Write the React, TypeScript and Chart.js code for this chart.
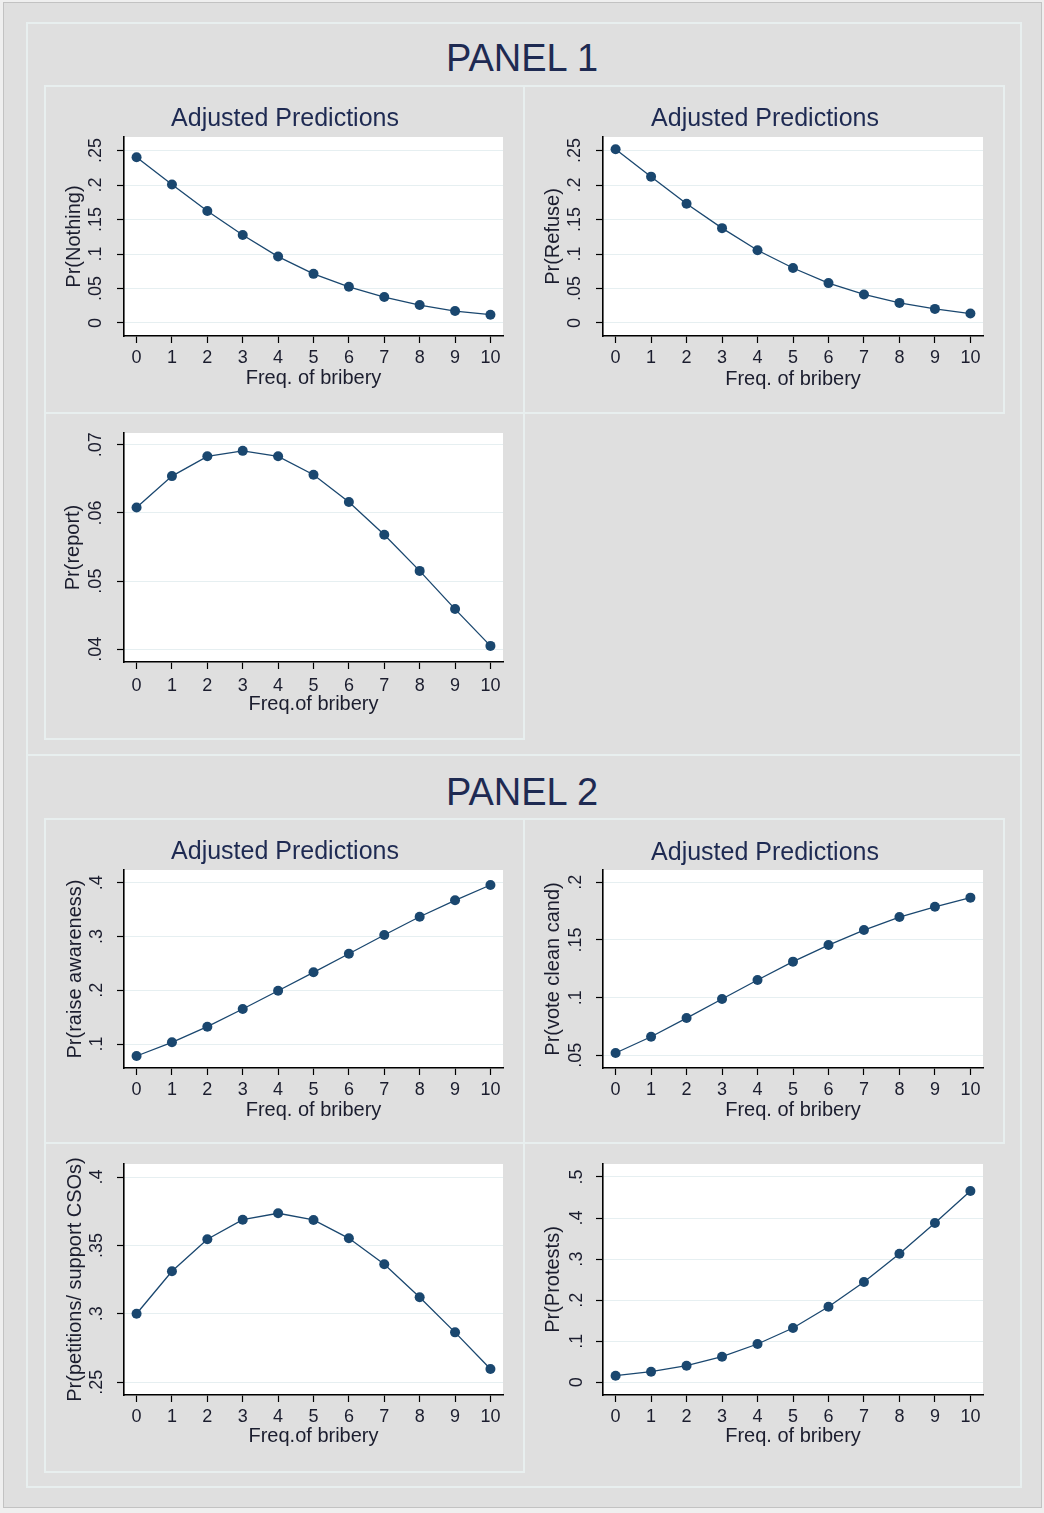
import React, { useEffect, useRef } from "react";
import { Chart, registerables } from "chart.js";

Chart.register(...registerables);

// ---------------- DATA ----------------
const bribery = [0, 1, 2, 3, 4, 5, 6, 7, 8, 9, 10];

const prNothing = [0.2403, 0.2009, 0.1623, 0.1276, 0.0963, 0.0712, 0.0525, 0.0376, 0.026, 0.0173, 0.012];
const prRefuse = [0.2519, 0.2122, 0.1728, 0.1375, 0.1054, 0.0797, 0.0578, 0.0413, 0.0291, 0.0204, 0.0137];
const prReport = [0.0608, 0.0654, 0.0683, 0.0691, 0.0683, 0.0656, 0.0616, 0.0568, 0.0515, 0.0459, 0.0405];
const prRaiseAwareness = [0.0777, 0.1032, 0.1322, 0.1651, 0.1991, 0.2333, 0.2679, 0.3027, 0.3367, 0.3672, 0.3957];
const prVoteClean = [0.052, 0.0661, 0.0823, 0.0988, 0.1153, 0.1312, 0.1456, 0.1586, 0.1699, 0.1788, 0.1867];
const prPetitions = [0.3001, 0.3311, 0.3545, 0.3688, 0.3735, 0.3686, 0.3552, 0.3362, 0.3121, 0.2865, 0.2597];
const prProtests = [0.0161, 0.0258, 0.0404, 0.0623, 0.0933, 0.1322, 0.1841, 0.2442, 0.3131, 0.3879, 0.4658];

const xTickValues = [0, 1, 2, 3, 4, 5, 6, 7, 8, 9, 10];
const xRange = [-0.355, 10.355];

const ticksNothing = [0, 0.05, 0.1, 0.15, 0.2, 0.25];
const ticksRefuse = [0, 0.05, 0.1, 0.15, 0.2, 0.25];
const ticksReport = [0.04, 0.05, 0.06, 0.07];
const ticksRaise = [0.1, 0.2, 0.3, 0.4];
const ticksVote = [0.05, 0.1, 0.15, 0.2];
const ticksPetitions = [0.25, 0.3, 0.35, 0.4];
const ticksProtests = [0, 0.1, 0.2, 0.3, 0.4, 0.5];

const rangeNothing = [-0.0189, 0.2697];
const rangeRefuse = [-0.0189, 0.2697];
const rangeReport = [0.03814, 0.07172];
const rangeRaise = [0.05537, 0.42362];
const rangeVote = [0.03899, 0.21067];
const rangePetitions = [0.24072, 0.4095];
const rangeProtests = [-0.03093, 0.53166];

const panelTitles = ["PANEL 1", "PANEL 2"];
const chartTitle = "Adjusted Predictions";

// ---------------- STYLE ----------------
const FONT = "'Liberation Sans', Arial, Helvetica, sans-serif";
const LINE_COLOR = "#1a476f";
const TITLE_COLOR = "#1e2a52";
const TEXT_COLOR = "#1b1d2e";
const GRID_COLOR = "#e6eff1";
const BOX_BORDER = "#e8efef";
const BG = "#dfdfdf";

const TITLE_SIZE = 25;
const TICK_SIZE = 18;
const AXIS_TITLE_SIZE = 20;
const TICK_LEN = 7;
const LH = 1.2;

type Geo = {
  box: number[];
  plot: number[];
  titleY?: number;
  titleX?: number;
  xTickY: number;
  xTitleY: number;
  yTickX: number;
  yTitleX: number;
  border: boolean;
};

type Spec = {
  id: string;
  title: string | null;
  yTitle: string;
  xTitle: string;
  values: number[];
  yTicks: number[];
  yRange: number[];
  geo: Geo;
};

const specs: Spec[] = [
  {
    id: "nothing", title: chartTitle, yTitle: "Pr(Nothing)", xTitle: "Freq. of bribery",
    values: prNothing, yTicks: ticksNothing, yRange: rangeNothing,
    geo: { box: [45, 86, 524, 413], plot: [124, 137, 503, 336], titleY: 119.3, titleX: 285, xTickY: 358, xTitleY: 378, yTickX: 96.5, yTitleX: 74, border: true },
  },
  {
    id: "refuse", title: chartTitle, yTitle: "Pr(Refuse)", xTitle: "Freq. of bribery",
    values: prRefuse, yTicks: ticksRefuse, yRange: rangeRefuse,
    geo: { box: [524, 86, 1004, 413], plot: [603, 137, 983, 336], titleY: 119.3, titleX: 765, xTickY: 358.3, xTitleY: 379, yTickX: 575.5, yTitleX: 553.4, border: true },
  },
  {
    id: "report", title: null, yTitle: "Pr(report)", xTitle: "Freq.of bribery",
    values: prReport, yTicks: ticksReport, yRange: rangeReport,
    geo: { box: [45, 413, 524, 739], plot: [124, 433, 503, 662], xTickY: 685.7, xTitleY: 704, yTickX: 96.5, yTitleX: 73.5, border: true },
  },
  {
    id: "raise", title: chartTitle, yTitle: "Pr(raise awareness)", xTitle: "Freq. of bribery",
    values: prRaiseAwareness, yTicks: ticksRaise, yRange: rangeRaise,
    geo: { box: [45, 819, 524, 1143], plot: [124, 870, 503, 1068], titleY: 851.7, titleX: 285, xTickY: 1090, xTitleY: 1110, yTickX: 97, yTitleX: 75, border: true },
  },
  {
    id: "vote", title: chartTitle, yTitle: "Pr(vote clean cand)", xTitle: "Freq. of bribery",
    values: prVoteClean, yTicks: ticksVote, yRange: rangeVote,
    geo: { box: [524, 819, 1004, 1143], plot: [603, 870, 983, 1068], titleY: 852.7, titleX: 765, xTickY: 1090, xTitleY: 1110, yTickX: 576, yTitleX: 553.4, border: true },
  },
  {
    id: "petitions", title: null, yTitle: "Pr(petitions/ support CSOs)", xTitle: "Freq.of bribery",
    values: prPetitions, yTicks: ticksPetitions, yRange: rangePetitions,
    geo: { box: [45, 1143, 524, 1472], plot: [124, 1164, 503, 1395], xTickY: 1417.3, xTitleY: 1436, yTickX: 97, yTitleX: 75, border: true },
  },
  {
    id: "protests", title: null, yTitle: "Pr(Protests)", xTitle: "Freq. of bribery",
    values: prProtests, yTicks: ticksProtests, yRange: rangeProtests,
    geo: { box: [524, 1143, 1004, 1472], plot: [603, 1164, 983, 1395], xTickY: 1417.3, xTitleY: 1436, yTickX: 577, yTitleX: 553.4, border: false },
  },
];

// Stata-style tick label: 0 -> "0", 0.25 -> ".25"
function fmt(v: number): string {
  if (Math.abs(v) < 1e-12) return "0";
  const s = String(parseFloat(v.toFixed(3)));
  return s.replace(/^0\./, ".").replace(/^-0\./, "-.");
}

let measureCtx: CanvasRenderingContext2D | null = null;
function measure(text: string, font: string): number {
  if (!measureCtx) measureCtx = document.createElement("canvas").getContext("2d");
  measureCtx!.font = font;
  return measureCtx!.measureText(text).width;
}

const plotBackground = {
  id: "plotBackground",
  beforeDraw(chart: any) {
    const { ctx, chartArea } = chart;
    if (!chartArea) return;
    ctx.save();
    ctx.fillStyle = "#ffffff";
    ctx.fillRect(chartArea.left, chartArea.top, chartArea.right - chartArea.left, chartArea.bottom - chartArea.top);
    ctx.restore();
  },
};

function buildConfig(spec: Spec): any {
  const g = spec.geo;
  const [bx1, by1, bx2, by2] = g.box;
  const [L, T, R, B] = g.plot;
  const W = bx2 - bx1;
  const padRight = W - (R - bx1);
  // title (full width box) is centred between the left and right layout paddings
  const desiredCenter = (g.titleX !== undefined ? g.titleX : (bx1 + bx2) / 2) - bx1;
  const padLeft = Math.max(0, 2 * desiredCenter - W + padRight);
  const yAxisW = L - bx1 - padLeft;
  const xAxisH = by2 - B;

  const tickFontStr = `normal ${TICK_SIZE}px ${FONT}`;
  const widest = Math.max(...spec.yTicks.map((v) => measure(fmt(v), tickFontStr)));
  const yTickPad = L - g.yTickX - TICK_LEN - widest / 2;
  const yTitlePadTop = g.yTitleX - (bx1 + padLeft) - (AXIS_TITLE_SIZE * LH) / 2;
  const xTickPad = g.xTickY - B - TICK_LEN - (TICK_SIZE * LH) / 2;
  const xTitlePadBottom = by2 - g.xTitleY - (AXIS_TITLE_SIZE * LH) / 2;

  let layoutTop = 0;
  let titleOpts: any = { display: false };
  if (spec.title && g.titleY !== undefined) {
    const tlh = TITLE_SIZE * LH;
    const tp = g.titleY - by1 - tlh / 2;
    const tb = T - by1 - tlh - tp;
    titleOpts = {
      display: true,
      text: spec.title,
      color: TITLE_COLOR,
      font: { family: FONT, size: TITLE_SIZE, weight: "normal", lineHeight: LH },
      padding: { top: tp, bottom: tb },
    };
  } else {
    layoutTop = T - by1;
  }

  const data = bribery.map((x, i) => ({ x, y: spec.values[i] }));

  return {
    type: "line",
    data: {
      datasets: [
        {
          data,
          borderColor: LINE_COLOR,
          backgroundColor: LINE_COLOR,
          borderWidth: 1.3,
          pointRadius: 5,
          pointBorderWidth: 0,
          pointBackgroundColor: LINE_COLOR,
          pointStyle: "circle",
          tension: 0,
          fill: false,
        },
      ],
    },
    options: {
      animation: false,
      responsive: false,
      devicePixelRatio: 1,
      events: [],
      layout: { padding: { left: padLeft, top: layoutTop, right: padRight, bottom: 0 } },
      plugins: {
        legend: { display: false },
        tooltip: { enabled: false },
        title: titleOpts,
      },
      scales: {
        x: {
          type: "linear",
          min: xRange[0],
          max: xRange[1],
          afterBuildTicks: (s: any) => {
            s.ticks = xTickValues.map((v) => ({ value: v }));
          },
          afterFit: (s: any) => {
            s.height = xAxisH;
            s.paddingLeft = 0;
            s.paddingRight = 0;
          },
          ticks: {
            color: TEXT_COLOR,
            font: { family: FONT, size: TICK_SIZE, lineHeight: LH },
            padding: xTickPad,
            maxRotation: 0,
            minRotation: 0,
            autoSkip: false,
            callback: (v: any) => String(v),
          },
          grid: {
            drawOnChartArea: false,
            drawTicks: true,
            tickLength: TICK_LEN,
            tickColor: "#000000",
            tickWidth: 1.2,
          },
          border: { display: true, color: "#000000", width: 1.6 },
          title: {
            display: true,
            text: spec.xTitle,
            color: TEXT_COLOR,
            font: { family: FONT, size: AXIS_TITLE_SIZE, lineHeight: LH },
            padding: { top: 0, bottom: xTitlePadBottom },
          },
        },
        y: {
          type: "linear",
          min: spec.yRange[0],
          max: spec.yRange[1],
          afterBuildTicks: (s: any) => {
            s.ticks = spec.yTicks.map((v) => ({ value: v }));
          },
          afterFit: (s: any) => {
            s.width = yAxisW;
            s.paddingTop = 0;
            s.paddingBottom = 0;
          },
          ticks: {
            color: TEXT_COLOR,
            font: { family: FONT, size: TICK_SIZE, lineHeight: LH },
            padding: yTickPad,
            minRotation: 90,
            maxRotation: 90,
            crossAlign: "center",
            autoSkip: false,
            callback: (v: any) => fmt(Number(v)),
          },
          grid: {
            drawOnChartArea: true,
            drawTicks: true,
            tickLength: TICK_LEN,
            color: GRID_COLOR,
            lineWidth: 1,
            tickColor: "#000000",
            tickWidth: 1.2,
          },
          border: { display: true, color: "#000000", width: 1.6 },
          title: {
            display: true,
            text: spec.yTitle,
            color: TEXT_COLOR,
            font: { family: FONT, size: AXIS_TITLE_SIZE, lineHeight: LH },
            padding: { top: yTitlePadTop, bottom: 0 },
          },
        },
      },
    },
    plugins: [plotBackground],
  };
}

function SubChart({ spec }: { spec: Spec }) {
  const ref = useRef<HTMLCanvasElement>(null);
  useEffect(() => {
    if (!ref.current) return;
    const chart = new Chart(ref.current, buildConfig(spec));
    return () => chart.destroy();
  }, [spec]);
  const [x1, y1, x2, y2] = spec.geo.box;
  return (
    <canvas
      ref={ref}
      width={x2 - x1}
      height={y2 - y1}
      style={{ position: "absolute", left: x1, top: y1, width: x2 - x1, height: y2 - y1, display: "block" }}
    />
  );
}

function Rect({ r, color, width }: { r: number[]; color: string; width: number }) {
  const [x1, y1, x2, y2] = r;
  const h = width / 2;
  return (
    <div
      style={{
        position: "absolute",
        left: x1 - h,
        top: y1 - h,
        width: x2 - x1 + width,
        height: y2 - y1 + width,
        border: `${width}px solid ${color}`,
        boxSizing: "border-box",
      }}
    />
  );
}

const panelRects = [
  [27, 23, 1021, 755],
  [27, 755, 1021, 1487],
];
const panelTitleTops = [40.2, 773.6];

export default function App() {
  return (
    <div
      style={{
        position: "absolute",
        left: 0,
        top: 0,
        width: 1044,
        height: 1513,
        background: "#efefef",
        overflow: "hidden",
        fontFamily: FONT,
      }}
    >
      <div
        style={{
          position: "absolute",
          left: 3,
          top: 2,
          width: 1039,
          height: 1506,
          background: BG,
          border: "1px solid #c2c2c2",
          boxSizing: "border-box",
        }}
      />
      {panelRects.map((r, i) => (
        <Rect key={"p" + i} r={r} color={BOX_BORDER} width={2} />
      ))}
      {panelRects.map((r, i) => (
        <div
          key={"pt" + i}
          style={{
            position: "absolute",
            left: r[0] - 2,
            width: r[2] - r[0],
            top: panelTitleTops[i],
            textAlign: "center",
            fontSize: 38,
            lineHeight: "37px",
            color: TITLE_COLOR,
            fontFamily: FONT,
            whiteSpace: "nowrap",
          }}
        >
          {panelTitles[i]}
        </div>
      ))}
      {specs.filter((s) => s.geo.border).map((s) => (
        <Rect key={"b" + s.id} r={s.geo.box} color={BOX_BORDER} width={2} />
      ))}
      {specs.map((s) => (
        <SubChart key={s.id} spec={s} />
      ))}
    </div>
  );
}
